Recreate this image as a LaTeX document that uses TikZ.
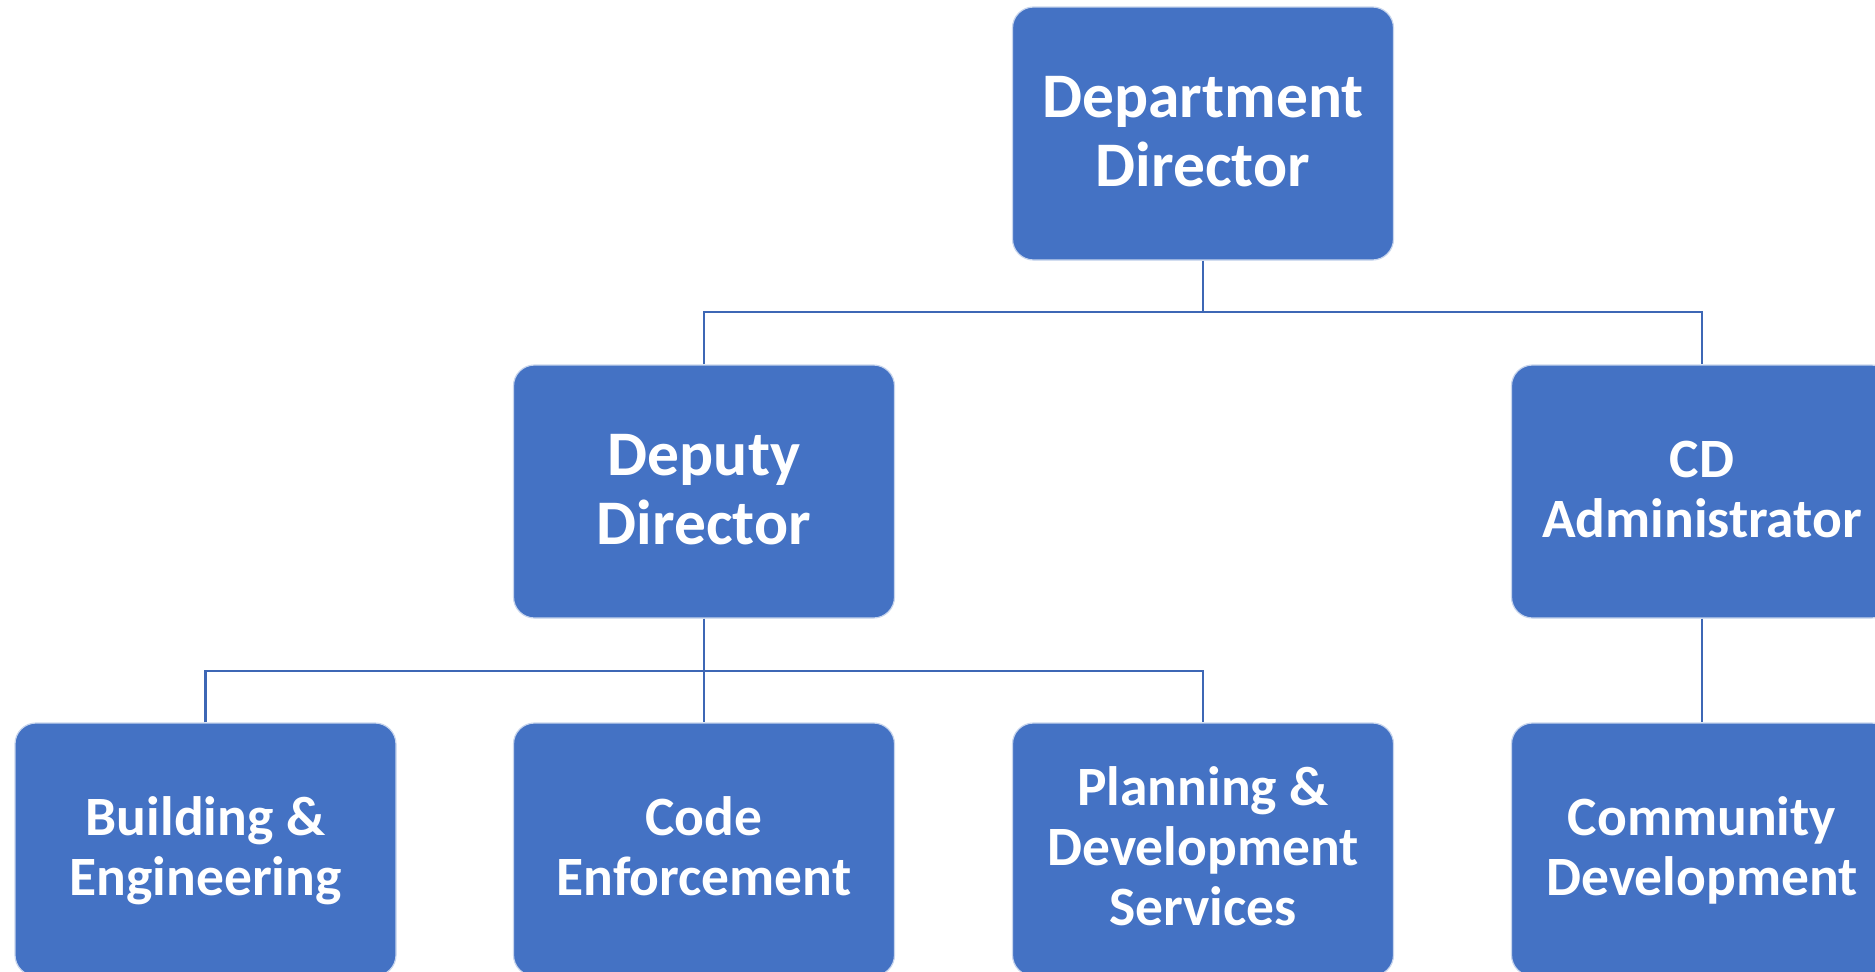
\documentclass[tikz,border=0pt]{standalone}
\usepackage{fontspec}
\setmainfont{Carlito}
\definecolor{boxblue}{HTML}{4472C4}
\definecolor{linkblue}{HTML}{3D67B5}
\begin{document}
\begin{tikzpicture}[x=1pt,y=-1pt,
  orgbox/.style={draw=white!70!boxblue, line width=1.2pt, fill=boxblue, rounded corners=21pt,
    minimum width=381pt, minimum height=253pt, inner sep=0pt, align=center,
    text=white, font=\bfseries\fontsize{55.5}{60}\selectfont, text height=92pt, text depth=0pt},
  bigtext/.style={font=\bfseries\fontsize{63.5}{69}\selectfont, text height=106pt, text depth=0pt},
  link/.style={draw=linkblue, line width=2.4pt}]
\useasboundingbox (0,0) rectangle (1875,972);
\node[orgbox,bigtext] (dd) at (1203,133.5) {Department\\Director};
\node[orgbox,bigtext] (dep) at (704,491.5) {Deputy\\Director};
\node[orgbox] (cda) at (1702,491.5) {CD\\Administrator};
\node[orgbox] (be) at (205.5,849.5) {Building \&\\Engineering};
\node[orgbox] (ce) at (704,849.5) {Code\\Enforcement};
\node[orgbox, text height=151pt] (pds) at (1203,849.5) {Planning \&\\Development\\Services};
\node[orgbox] (cdv) at (1702,849.5) {Community\\Development};
\coordinate (j1) at (1203,312);
\coordinate (j2) at (704,671);
\draw[link] (dd.south) -- (j1);
\draw[link] (dep.north) |- (j1) -| (cda.north);
\draw[link] (dep.south) -- (ce.north);
\draw[link] (be.north) |- (j2) -| (pds.north);
\draw[link] (cda.south) -- (cdv.north);
\end{tikzpicture}
\end{document}
